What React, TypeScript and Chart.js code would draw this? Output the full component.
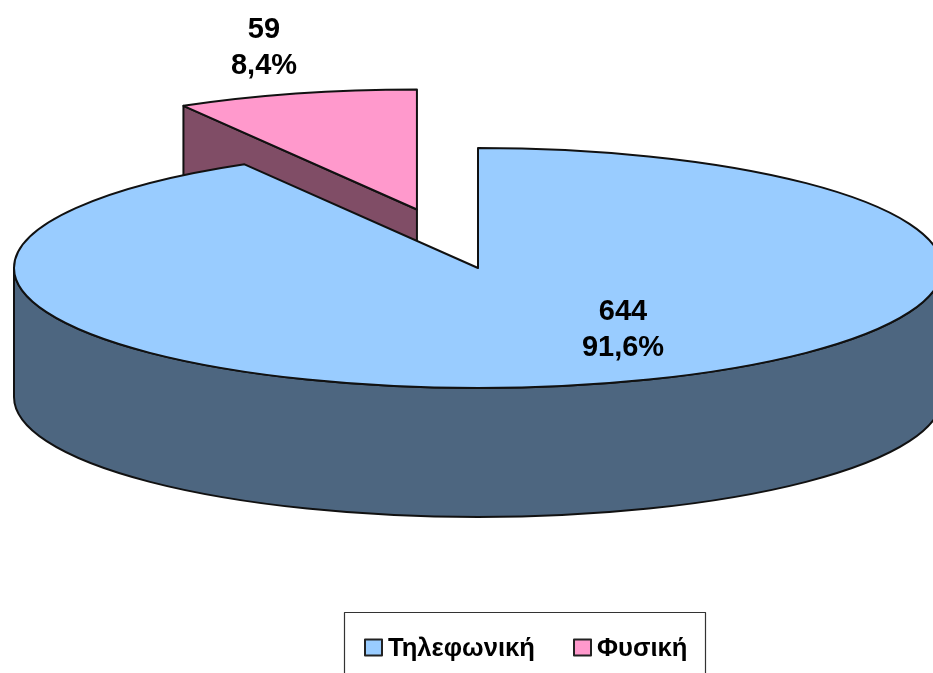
import React, { useEffect, useRef } from "react";
import { Chart, registerables } from "chart.js";

Chart.register(...registerables);

const categories = ["Τηλεφωνική", "Φυσική"];
const counts = [644, 59];
const percentLabels = ["91,6%", "8,4%"];
const topColors = ["#99CCFF", "#FF99CC"];
const wallColors = ["#4D6680", "#804D66"];
const explode = [0, 0.505];

const CENTER_X = 478;
const CENTER_Y = 268;
const RADIUS_X = 464;
const RADIUS_Y = 120;
const DEPTH = 129;
const MODEL_R = 100;
const INK = "#111111";
const LINE = 2;
const LABEL_FONT = "bold 29px 'Liberation Sans', Arial, sans-serif";
const LEGEND_FONT = "bold 25.6px 'Liberation Sans', Arial, sans-serif";
const labelSpots = [
  { x: 623, y: 312 },
  { x: 264, y: 30 },
];
const legendSpots = [
  { box: 365, text: 388 },
  { box: 574, text: 597 },
];

const tiltPlugin = {
  id: "tilt",
  afterDatasetsUpdate(chart: any) {
    chart.getDatasetMeta(0).data.forEach((el: any, i: number) => {
      const mid = (el.startAngle + el.endAngle) / 2;
      el.x += Math.cos(mid) * explode[i] * el.outerRadius;
      el.y += Math.sin(mid) * explode[i] * el.outerRadius;
    });
  },
  beforeDatasetsDraw(chart: any) {
    const ctx = chart.ctx;
    const [blue, pink] = chart.getDatasetMeta(0).data;
    const R = blue.outerRadius;
    const cx = (chart.chartArea.left + chart.chartArea.right) / 2;
    const cy = (chart.chartArea.top + chart.chartArea.bottom) / 2;
    const enter = () => {
      ctx.translate(CENTER_X, CENTER_Y);
      ctx.scale(RADIUS_X / R, RADIUS_Y / R);
      ctx.translate(-cx, -cy);
    };
    chart.$enter = enter;
    const d = (DEPTH * R) / RADIUS_Y;

    ctx.lineJoin = "round";
    ctx.lineWidth = LINE;
    ctx.strokeStyle = INK;

    // cut face of the exploded slice
    ctx.save();
    enter();
    const ex = pink.x + R * Math.cos(pink.startAngle);
    const ey = pink.y + R * Math.sin(pink.startAngle);
    ctx.beginPath();
    ctx.moveTo(ex, ey);
    ctx.lineTo(pink.x, pink.y);
    ctx.lineTo(pink.x, pink.y + d);
    ctx.lineTo(ex, ey + d);
    ctx.closePath();
    ctx.restore();
    ctx.fillStyle = wallColors[1];
    ctx.fill();
    ctx.stroke();

    // outer wall of the large slice
    ctx.save();
    enter();
    ctx.beginPath();
    ctx.arc(blue.x, blue.y, R, 0, Math.PI);
    ctx.lineTo(blue.x - R, blue.y + d);
    ctx.arc(blue.x, blue.y + d, R, Math.PI, 0, true);
    ctx.closePath();
    ctx.restore();
    ctx.fillStyle = wallColors[0];
    ctx.fill();
    ctx.stroke();

    ctx.save();
    enter();
  },
  afterDatasetsDraw(chart: any) {
    const ctx = chart.ctx;
    ctx.restore();
    ctx.lineJoin = "round";
    ctx.lineWidth = LINE;
    ctx.strokeStyle = INK;
    chart.getDatasetMeta(0).data.forEach((el: any) => {
      ctx.save();
      chart.$enter();
      ctx.beginPath();
      ctx.moveTo(el.x, el.y);
      ctx.arc(el.x, el.y, el.outerRadius, el.startAngle, el.endAngle);
      ctx.closePath();
      ctx.restore();
      ctx.stroke();
    });
  },
  afterDraw(chart: any) {
    const ctx = chart.ctx;
    ctx.save();
    ctx.fillStyle = "#000000";
    ctx.textAlign = "center";
    ctx.textBaseline = "middle";
    ctx.font = LABEL_FONT;
    counts.forEach((v, i) => {
      ctx.fillText(String(v), labelSpots[i].x, labelSpots[i].y);
      ctx.fillText(percentLabels[i], labelSpots[i].x, labelSpots[i].y + 36);
    });

    // legend frame and entries
    ctx.strokeStyle = "#333333";
    ctx.lineWidth = 1.2;
    ctx.strokeRect(344.5, 612.5, 361, 80);
    ctx.textAlign = "left";
    ctx.font = LEGEND_FONT;
    categories.forEach((name, i) => {
      ctx.fillStyle = topColors[i];
      ctx.fillRect(legendSpots[i].box, 639.5, 17, 16);
      ctx.strokeStyle = "#222222";
      ctx.lineWidth = 2;
      ctx.strokeRect(legendSpots[i].box, 639.5, 17, 16);
      ctx.fillStyle = "#000000";
      ctx.fillText(name, legendSpots[i].text, 649);
    });
    ctx.restore();
  },
};

export default function App() {
  const ref = useRef<HTMLCanvasElement>(null);
  useEffect(() => {
    const chart = new Chart(ref.current as HTMLCanvasElement, {
      type: "pie",
      data: {
        labels: categories,
        datasets: [
          {
            data: counts,
            backgroundColor: topColors,
            borderWidth: 0,
            clip: false,
          } as any,
        ],
      },
      options: {
        responsive: false,
        animation: false,
        events: [],
        radius: MODEL_R,
        layout: { padding: 0 },
        plugins: {
          legend: { display: false },
          tooltip: { enabled: false },
        },
      } as any,
      plugins: [tiltPlugin],
    });
    return () => chart.destroy();
  }, []);
  return (
    <div style={{ position: "fixed", left: 0, top: 0, width: 933, height: 673, overflow: "hidden", background: "#fff" }}>
      <canvas ref={ref} width={933} height={673} style={{ display: "block" }} />
    </div>
  );
}
